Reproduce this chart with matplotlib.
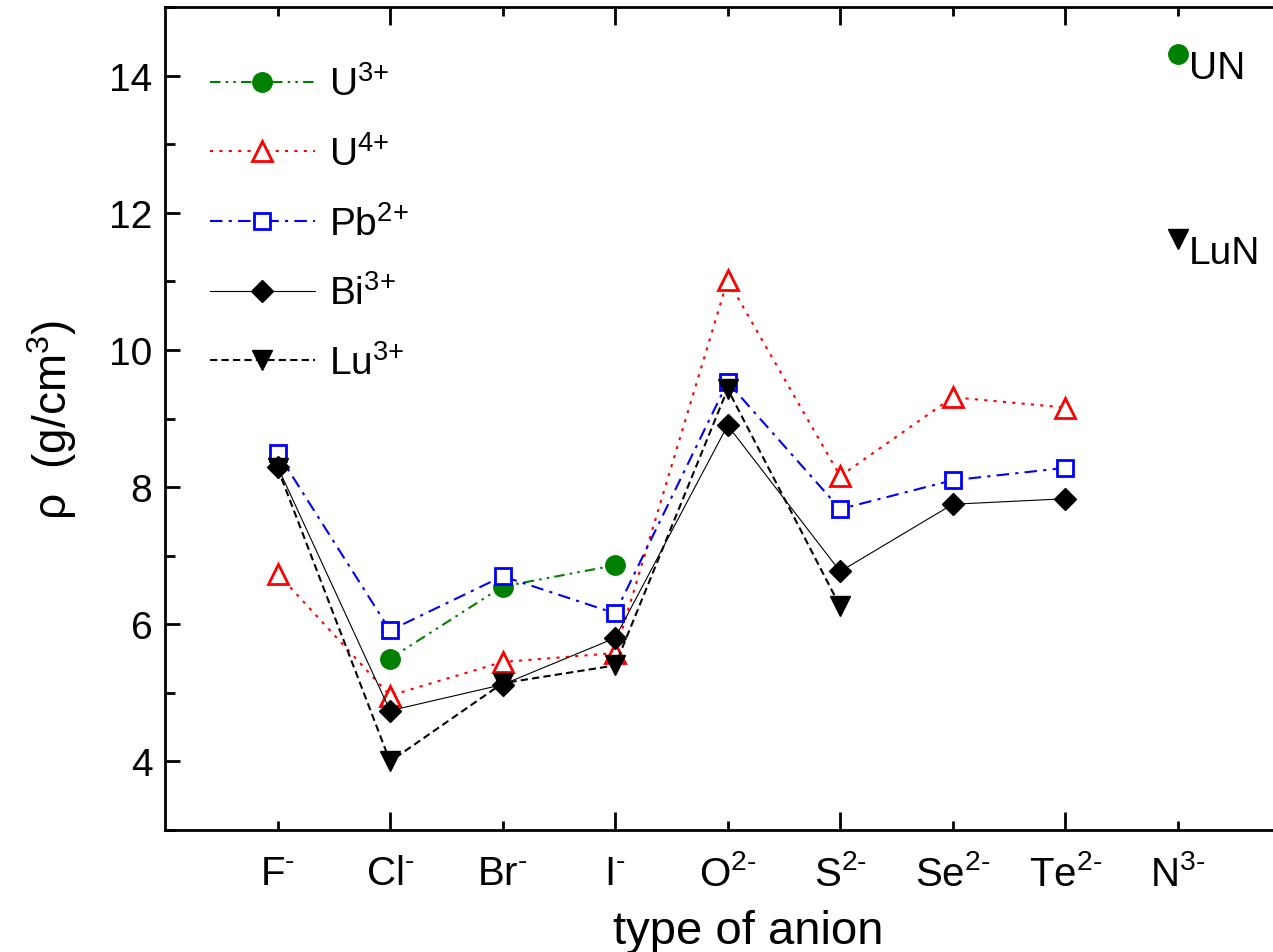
import matplotlib
matplotlib.use("Agg")
import matplotlib.pyplot as plt
from matplotlib.ticker import MultipleLocator

plt.rcParams['font.family'] = ['Liberation Sans', 'DejaVu Sans']
plt.rcParams['mathtext.fontset'] = 'custom'
plt.rcParams['mathtext.rm'] = 'Liberation Sans'
plt.rcParams['mathtext.it'] = 'Liberation Sans'
plt.rcParams['mathtext.default'] = 'regular'

# ========== Data ==========
anions = [r'F$^{\text{-}}$', r'Cl$^{\text{-}}$', r'Br$^{\text{-}}$', r'I$^{\text{-}}$',
          r'O$^{2\text{-}}$', r'S$^{2\text{-}}$', r'Se$^{2\text{-}}$',
          r'Te$^{2\text{-}}$', r'N$^{3\text{-}}$']
pos = list(range(1, len(anions) + 1))

u3_x = [2, 3, 4]
u3_y = [5.50, 6.55, 6.86]

u4_x = [1, 2, 3, 4, 5, 6, 7, 8]
u4_y = [6.74, 4.96, 5.45, 5.58, 11.02, 8.16, 9.31, 9.16]

pb_x = [1, 2, 3, 4, 5, 6, 7, 8]
pb_y = [8.50, 5.91, 6.70, 6.16, 9.53, 7.68, 8.10, 8.28]

bi_x = [1, 2, 3, 4, 5, 6, 7, 8]
bi_y = [8.30, 4.74, 5.12, 5.80, 8.90, 6.77, 7.75, 7.83]

lu_x = [1, 2, 3, 4, 5, 6]
lu_y = [8.28, 4.00, 5.14, 5.40, 9.43, 6.26]

# nitrides
un_y = 14.32
lun_y = 11.62

# ========== Plot ==========
fig = plt.figure(figsize=(12.73, 9.53), dpi=100)
ax = fig.add_axes([0.1296, 0.128, 0.884, 0.8636])

ax.plot(u3_x, u3_y, color='green', ls=(0, (5, 2.5, 1.2, 2.5, 1.2, 2.5)), lw=1.5,
        marker='o', ms=14, label=r'U$^{3\text{+}}$')
ax.plot(u4_x, u4_y, color='red', ls=(0, (1.5, 3)), lw=1.5,
        marker='^', ms=14, mfc='white', mew=2, label=r'U$^{4\text{+}}$')
ax.plot(pb_x, pb_y, color='blue', ls=(0, (6, 3, 1.5, 3)), lw=1.5,
        marker='s', ms=11.5, mfc='white', mew=2, label=r'Pb$^{2\text{+}}$')
ax.plot(lu_x, lu_y, color='black', ls=(0, (3.5, 2)), lw=1.5,
        marker='v', ms=14, label=r'Lu$^{3\text{+}}$', zorder=2.1)
ax.plot(bi_x, bi_y, color='black', ls='-', lw=0.8,
        marker='D', ms=11, label=r'Bi$^{3\text{+}}$', zorder=2.2)

ax.plot([9], [un_y], 'o', color='green', ms=14)
ax.plot([9], [lun_y], 'v', color='black', ms=14)
ax.text(9.1, un_y + 0.05, 'UN', fontsize=28, va='top', ha='left')
ax.text(9.1, lun_y + 0.05, 'LuN', fontsize=28, va='top', ha='left')

ax.set_xlim(0, 10)
ax.set_ylim(3, 15)

ax.set_xticks(pos)
ax.set_xticklabels(anions, fontsize=29)
ax.yaxis.set_minor_locator(MultipleLocator(1))
ax.set_yticks([4, 6, 8, 10, 12, 14])
ax.tick_params(axis='y', labelsize=28)

ax.tick_params(which='both', direction='in', top=True, right=True, width=2)
ax.tick_params(axis='y', which='major', length=11, pad=9)
ax.tick_params(axis='y', which='minor', length=7)
ax.tick_params(axis='x', which='major', length=13, pad=17)

# long ticks on even anions, short on odd
for i, t in enumerate(ax.xaxis.get_major_ticks()):
    if i % 2 == 0:
        t.tick1line.set_markersize(6.5)
        t.tick2line.set_markersize(6.5)

for s in ax.spines.values():
    s.set_linewidth(2)

ax.set_xlabel('type of anion', fontsize=34, labelpad=12, x=0.518)
ax.set_ylabel(r'$\rho$  (g/cm$^{3}$)', fontsize=33, labelpad=22)

h, l = ax.get_legend_handles_labels()
order = [0, 1, 2, 4, 3]
ax.legend([h[i] for i in order], [l[i] for i in order], loc='upper left',
          bbox_to_anchor=(0.04, 0.929), frameon=False, fontsize=28,
          borderpad=0, borderaxespad=0,
          handlelength=2.7, labelspacing=0.82, handletextpad=0.36)

fig.savefig('out.png', dpi=100)
